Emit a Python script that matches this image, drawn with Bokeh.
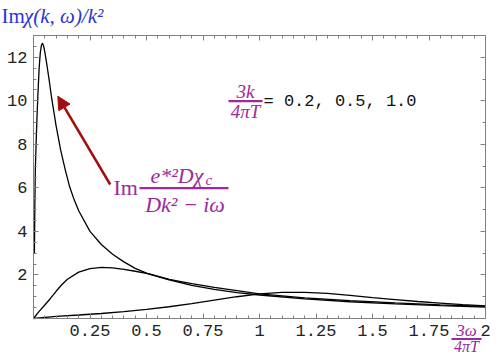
from bokeh.plotting import figure
from bokeh.models import (Range1d, FixedTicker, LinearAxis, Label, Arrow, NormalHead,
                          CustomJSTickFormatter)
from bokeh.embed import file_html
from bokeh.resources import INLINE

# ---- data ----
k_values = [0.2, 0.5, 1.0]

x1 = [0.004, 0.006, 0.008, 0.012, 0.016, 0.020, 0.025, 0.030, 0.035, 0.040, 0.045,
      0.050, 0.060, 0.070, 0.080, 0.090, 0.100, 0.120, 0.140, 0.160, 0.180, 0.200,
      0.250, 0.300, 0.350, 0.400, 0.450, 0.500, 0.600, 0.700, 0.800, 0.900, 1.000,
      1.200, 1.400, 1.600, 1.800, 2.000]
y1 = [3.0, 5.2, 6.8, 8.2, 9.4, 10.4, 11.5, 12.2, 12.55, 12.65, 12.5,
      12.25, 11.6, 10.9, 10.15, 9.5, 8.85, 7.75, 6.85, 6.05, 5.45, 4.95,
      4.0, 3.4, 2.95, 2.6, 2.3, 2.08, 1.8, 1.6, 1.43, 1.28, 1.13,
      0.95, 0.82, 0.72, 0.63, 0.56]

x2 = [0.0, 0.025, 0.05, 0.075, 0.1, 0.125, 0.15, 0.2, 0.25, 0.3, 0.35, 0.4, 0.45,
      0.5, 0.6, 0.7, 0.8, 0.9, 1.0, 1.2, 1.4, 1.6, 1.8, 2.0]
y2 = [0.0, 0.33, 0.62, 0.92, 1.25, 1.55, 1.8, 2.13, 2.29, 2.35, 2.33, 2.26, 2.17,
      2.07, 1.78, 1.52, 1.34, 1.19, 1.08, 0.9, 0.77, 0.67, 0.59, 0.52]

x3 = [0.0, 0.1, 0.2, 0.3, 0.4, 0.5, 0.6, 0.7, 0.8, 0.9, 1.0, 1.1, 1.2, 1.3, 1.4,
      1.5, 1.6, 1.7, 1.8, 1.9, 2.0]
y3 = [0.0, 0.10, 0.16, 0.23, 0.32, 0.42, 0.54, 0.68, 0.84, 1.00, 1.13, 1.20, 1.20,
      1.15, 1.06, 0.96, 0.87, 0.78, 0.71, 0.64, 0.58]

x_ticks = [0.25, 0.5, 0.75, 1.0, 1.25, 1.5, 1.75, 2.0]
x_tick_labels = ["0.25", "0.5", "0.75", "1", "1.25", "1.5", "1.75", "2"]
y_ticks = [2, 4, 6, 8, 10, 12]
y_tick_labels = ["2", "4", "6", "8", "10", "12"]

# ---- layout (canvas pixels) ----
W, H = 491, 353
FL, FR, FT, FB = 33, 485, 35, 318      # where the plotted box should sit
XMAX, YMAX = 2.0, 13.0
XS = XMAX / (FR - FL)
YS = YMAX / (FB - FT)


def dx(px):
    return (px - FL) * XS


def dy(py):
    return (FB - py) * YS


p = figure(width=W, height=H,
           x_range=Range1d(dx(0), dx(W)), y_range=Range1d(dy(H), dy(0)),
           output_backend="svg", toolbar_location=None,
           min_border_left=0, min_border_right=0, min_border_top=0, min_border_bottom=0)
p.grid.visible = False
p.outline_line_color = None
p.background_fill_color = "white"
p.border_fill_color = "white"

frame_grey = "#808080"
tick_font = "Liberation Mono"

xminor = [round(0.05 * i, 2) for i in range(0, 41)]
yminor = [0.5 * i for i in range(0, 27)]


def style_axis(ax):
    ax.axis_line_color = frame_grey
    ax.major_tick_line_color = frame_grey
    ax.minor_tick_line_color = frame_grey
    ax.major_tick_in = 5
    ax.major_tick_out = 0
    ax.minor_tick_in = 3
    ax.minor_tick_out = 0
    ax.major_label_text_font = tick_font
    ax.major_label_text_font_size = "17px"
    ax.major_label_text_color = "#222222"


xa = p.xaxis[0]
xa.ticker = FixedTicker(ticks=x_ticks, minor_ticks=xminor)
xa.major_label_overrides = {t: s for t, s in zip(x_ticks, x_tick_labels)}
xa.fixed_location = 0
xa.bounds = (0, XMAX)
xa.major_label_standoff = 6
style_axis(xa)

ya = p.yaxis[0]
ya.ticker = FixedTicker(ticks=y_ticks, minor_ticks=yminor)
ya.major_label_overrides = {t: s for t, s in zip(y_ticks, y_tick_labels)}
ya.fixed_location = 0
ya.bounds = (0, YMAX)
ya.major_label_standoff = 6
style_axis(ya)

blank = CustomJSTickFormatter(code="return ''")
top = LinearAxis(ticker=FixedTicker(ticks=x_ticks, minor_ticks=xminor), formatter=blank,
                 fixed_location=YMAX, bounds=(0, XMAX))
right = LinearAxis(ticker=FixedTicker(ticks=y_ticks, minor_ticks=[float(i) for i in range(0, 14)]),
                   formatter=blank, fixed_location=XMAX, bounds=(0, YMAX))
for ax in (top, right):
    style_axis(ax)
    ax.major_label_standoff = 0
p.add_layout(top, "above")
p.add_layout(right, "right")

# ---- curves ----
for xs, ys in ((x1, y1), (x2, y2), (x3, y3)):
    p.line(xs, ys, line_color="black", line_width=1.3)

purple = "#9c2a9c"
blue = "#2b35d8"
serif = "Liberation Serif"


def label(px, py, text, size, color, style="normal", font=serif, align="left"):
    p.add_layout(Label(x=dx(px), y=dy(py), text=text,
                       text_font=font, text_font_size=size, text_font_style=style,
                       text_color=color, text_align=align, text_baseline="middle"))


def bar(px0, px1, py, color, width=2.2):
    p.add_layout(Arrow(x_start=dx(px0), y_start=dy(py), x_end=dx(px1), y_end=dy(py),
                       start=None, end=None, line_color=color, line_width=width))


# title
label(1, 15, "Im", "21px", blue)
label(23.5, 15, "\u03c7(k, \u03c9)/k\u00b2", "21px", blue, style="italic")

# 3k/4piT = values
label(245, 90.5, "3k", "19px", purple, style="italic", align="center")
bar(228, 262, 100.7, purple)
label(245, 111, "4\u03c0T", "19px", purple, style="italic", align="center")
label(263, 101, "= " + ", ".join(f"{k:.1f}" for k in k_values), "17px", "#111111",
      font=tick_font)

# red arrow
p.add_layout(Arrow(x_start=dx(109.7), y_start=dy(184), x_end=dx(57.3), y_end=dy(95.7),
                   line_color="#a30d0d", line_width=2.5,
                   end=NormalHead(size=13, fill_color="#a30d0d", line_color="#a30d0d")))

# formula
label(113, 186.5, "Im", "22px", purple)
label(150, 174.5, "e*\u00b2D\u03c7", "22px", purple, style="italic")
label(205, 179, "c", "15px", purple, style="italic")
bar(139, 228, 187.7, purple)
label(184.5, 203.5, "Dk\u00b2 \u2212 i\u03c9", "22px", purple, style="italic", align="center")

# x-axis label 3w/4piT
label(466, 330, "3\u03c9", "17px", purple, style="italic", align="center")
bar(451, 481, 338.5, purple)
label(466, 345.5, "4\u03c0T", "16px", purple, style="italic", align="center")

open("out.html", "w").write(file_html(p, INLINE))
